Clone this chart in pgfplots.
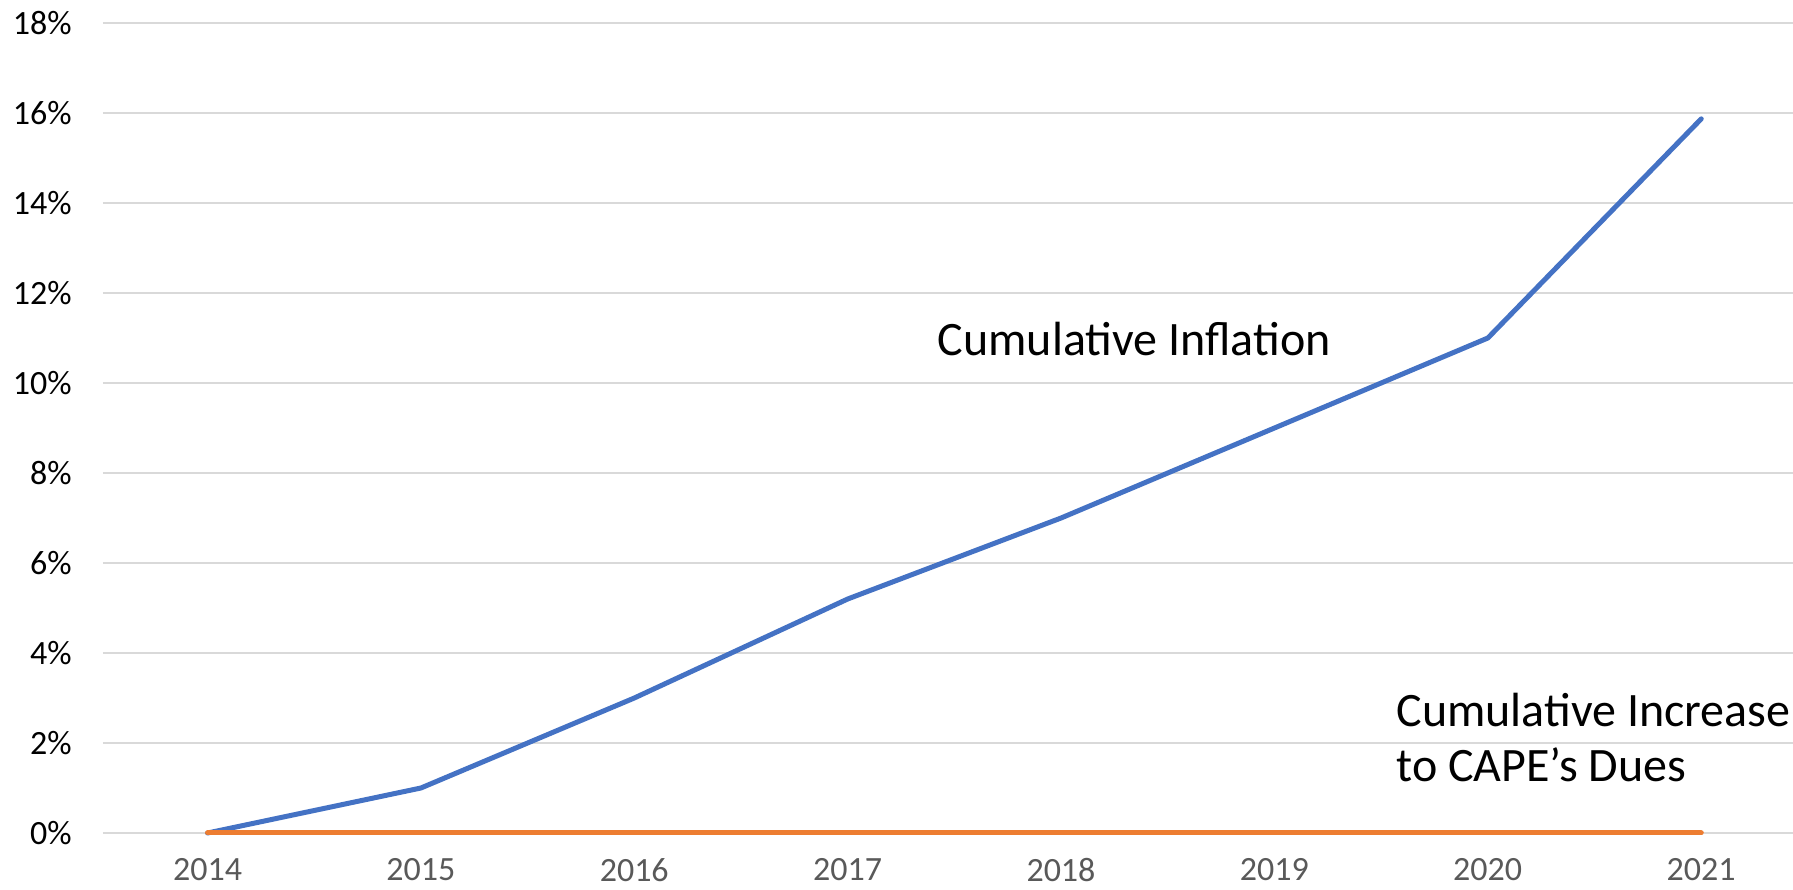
\documentclass[border=0pt]{standalone}
\usepackage{fontspec}
\setmainfont{Carlito}
\usepackage{pgfplots}
\pgfplotsset{compat=1.18}
\definecolor{cblue}{HTML}{4472C4}
\definecolor{corange}{HTML}{ED7D31}
\definecolor{cgrid}{HTML}{D9D9D9}
\definecolor{ctick}{HTML}{595959}
\begin{document}
\begin{tikzpicture}
\begin{axis}[
  name=ax,
  scale only axis,
  width=845pt, height=405pt,
  xmin=2013.51, xmax=2021.43,
  ymin=0, ymax=18,
  axis line style={draw=none},
  major tick length=0pt,
  ymajorgrids,
  grid style={cgrid, line width=1pt},
  ytick={0,2,...,18},
  yticklabels={0\%,2\%,4\%,6\%,8\%,10\%,12\%,14\%,16\%,18\%},
  xtick={2014,...,2021},
  xticklabels={2014,2015,2016,2017,2018,2019,2020,2021},
  yticklabel style={font=\fontsize{17pt}{20pt}\selectfont, anchor=east, inner sep=0pt, xshift=-15.5pt},
  xticklabel style={font=\fontsize{17pt}{20pt}\selectfont, text=ctick, anchor=north, inner sep=0pt, yshift=-12.5pt},
  clip=false,
]
\addplot[cblue, line width=2.5pt, line cap=round, line join=round] coordinates {
  (2014,0) (2015,1.0) (2016,3.0) (2017,5.2) (2018,7.0) (2019,9.0) (2020,11.0) (2021,15.87)
};
\addplot[corange, line width=2.5pt, line cap=round, line join=round] coordinates {
  (2014,0) (2015,0) (2016,0) (2017,0) (2018,0) (2019,0) (2020,0) (2021,0)
};
\node[anchor=base west, inner sep=0pt, font=\fontsize{24pt}{29pt}\selectfont] at (axis cs:2017.42,10.6) {Cumulative Inflation};
\node[anchor=base west, inner sep=0pt, font=\fontsize{24pt}{29pt}\selectfont] at (axis cs:2019.57,2.37) {Cumulative Increase};
\node[anchor=base west, inner sep=0pt, font=\fontsize{24pt}{29pt}\selectfont] at (axis cs:2019.57,1.15) {to CAPE’s Dues};
\end{axis}
\pgfresetboundingbox
\path[overlay] (ax.south west) ++(-51.5pt,-28.5pt) coordinate (bl);
\path[overlay] (ax.north east) ++(0pt,11.5pt) coordinate (tr);
\useasboundingbox (bl) rectangle (tr);
\end{tikzpicture}
\end{document}
